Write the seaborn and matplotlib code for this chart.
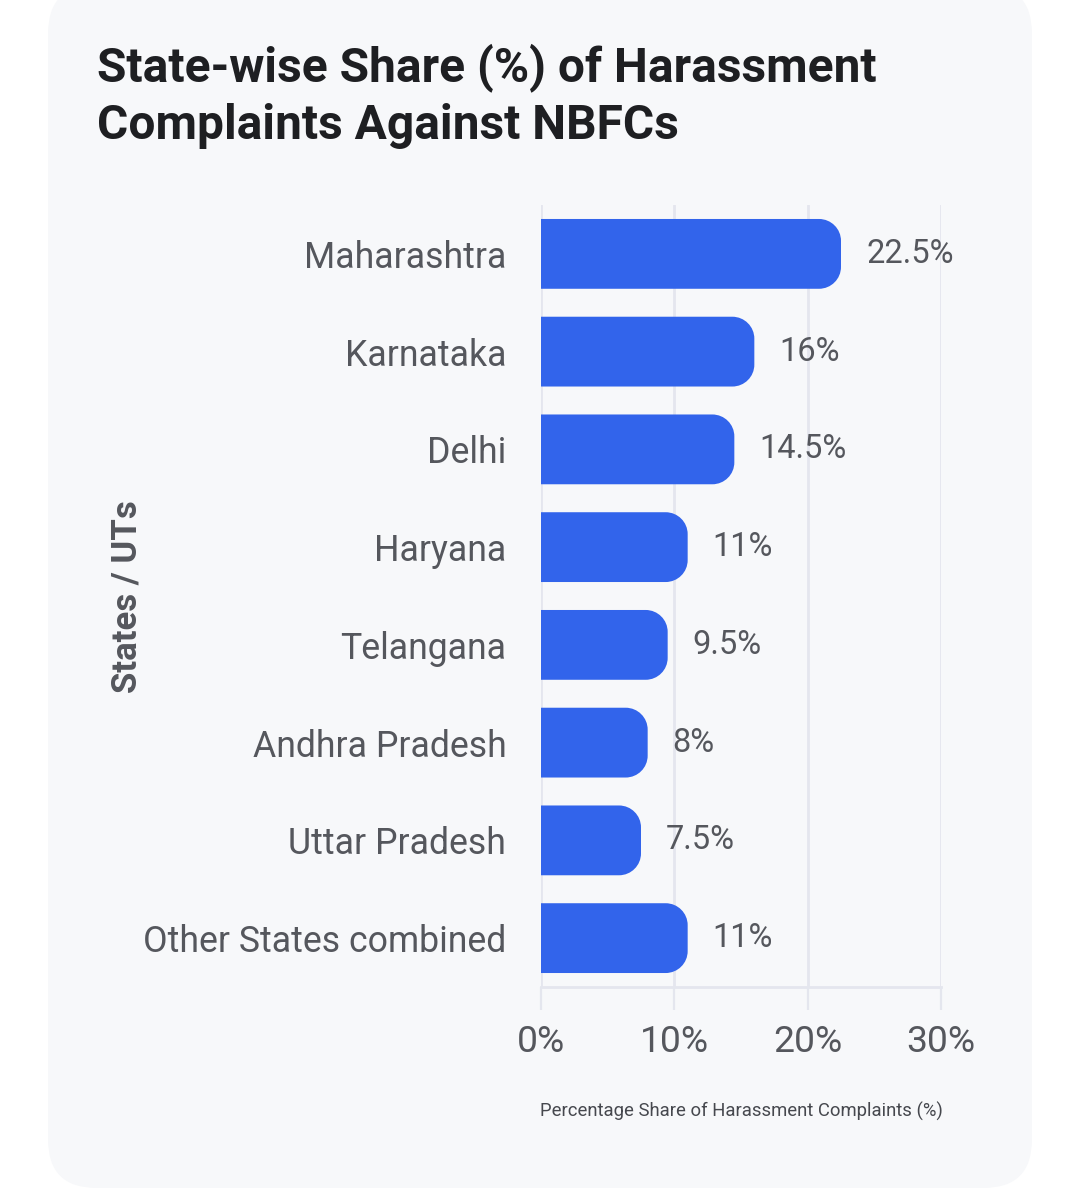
import matplotlib
matplotlib.use("Agg")
import pandas as pd
import seaborn as sns
from matplotlib import pyplot as plt
from matplotlib.patches import FancyBboxPatch, PathPatch
from matplotlib.path import Path

states = [
    "Maharashtra",
    "Karnataka",
    "Delhi",
    "Haryana",
    "Telangana",
    "Andhra Pradesh",
    "Uttar Pradesh",
    "Other States combined",
]
share = [22.5, 16, 14.5, 11, 9.5, 8, 7.5, 11]
x_ticks = [0, 10, 20, 30]

BAR = "#3264eb"
GRID = "#e4e6ee"
TEXT = "#55575d"

sns.set_theme(style="white")
plt.rcParams["font.family"] = ["Roboto", "DejaVu Sans"]

df = pd.DataFrame({"state": states, "share": share})


def rounded_right(x0, y0, w, h, rx, ry, k=0.5523):
    # bar outline with square left end and rounded right corners
    x1, y1 = x0 + w, y0 + h
    verts = [
        (x0, y0), (x1 - rx, y0),
        (x1 - rx + k * rx, y0), (x1, y0 + ry - k * ry), (x1, y0 + ry),
        (x1, y1 - ry),
        (x1, y1 - ry + k * ry), (x1 - rx + k * rx, y1), (x1 - rx, y1),
        (x0, y1), (x0, y0),
    ]
    codes = [Path.MOVETO, Path.LINETO,
             Path.CURVE4, Path.CURVE4, Path.CURVE4,
             Path.LINETO,
             Path.CURVE4, Path.CURVE4, Path.CURVE4,
             Path.LINETO, Path.CLOSEPOLY]
    return Path(verts, codes)


fig = plt.figure(figsize=(10.79, 12), dpi=100, facecolor="white")

# card background
card = FancyBboxPatch((48 / 1079, 12 / 1200), 984 / 1079, 1203 / 1200,
                      boxstyle="round,pad=0,rounding_size=0.045",
                      mutation_aspect=1079 / 1200,
                      transform=fig.transFigure, facecolor="#f7f8fa",
                      edgecolor="none", zorder=-10)
fig.patches.append(card)

ax = fig.add_axes([541 / 1079, 1 - 987 / 1200, 400 / 1079, 782 / 1200])
ax.set_facecolor("none")
ax.set_zorder(5)

sns.barplot(data=df, x="share", y="state", orient="h", color=BAR,
            width=0.714, ax=ax, zorder=3)

# swap plain bars for bars with rounded right ends
for p in list(ax.patches):
    x0, y0 = p.get_x(), p.get_y()
    w, h = p.get_width(), p.get_height()
    p.remove()
    ax.add_patch(PathPatch(rounded_right(x0, y0, w, h, 1.65, 0.224),
                           facecolor=BAR, edgecolor="none", zorder=3))

for i, v in enumerate(share):
    ax.annotate(f"{v:g}%", xy=(v, i), xytext=(18, 0), textcoords="offset points",
                va="center", ha="left", fontsize=23.5, color=TEXT)

ax.set_xlim(0, 30)
ax.set_ylim(7.5, -0.5)
ax.set_xticks(x_ticks)
ax.set_xticklabels([f"{t}%" for t in x_ticks])

ax.grid(axis="x", color=GRID, linewidth=2, zorder=0)
ax.grid(axis="y", visible=False)
for side in ["top", "right", "left"]:
    ax.spines[side].set_visible(False)
ax.spines["bottom"].set_color(GRID)
ax.spines["bottom"].set_linewidth(2)

ax.tick_params(axis="x", length=16.5, width=1.6, color=GRID, pad=10,
               labelsize=26.8, labelcolor=TEXT, bottom=True)
ax.tick_params(axis="y", length=0, pad=25, labelsize=25.7, labelcolor=TEXT)

# no condensed face is installed, so a smaller Roboto keeps the same span
ax.set_xlabel("Percentage Share of Harassment Complaints (%)",
              fontsize=13.3, color="#46484e", labelpad=30)
ax.set_ylabel("")
fig.text(127 / 1079, 1 - 597 / 1200, "States / UTs", rotation=90,
         ha="center", va="center", fontsize=25, fontweight="bold", color=TEXT)

fig.text(97 / 1079, 1 - 43 / 1200,
         "State-wise Share (%) of Harassment\nComplaints Against NBFCs",
         ha="left", va="top", fontsize=34.5, fontweight="bold",
         color="#1e1f22", linespacing=1.32)

fig.savefig("out.png", dpi=100, facecolor="white")
